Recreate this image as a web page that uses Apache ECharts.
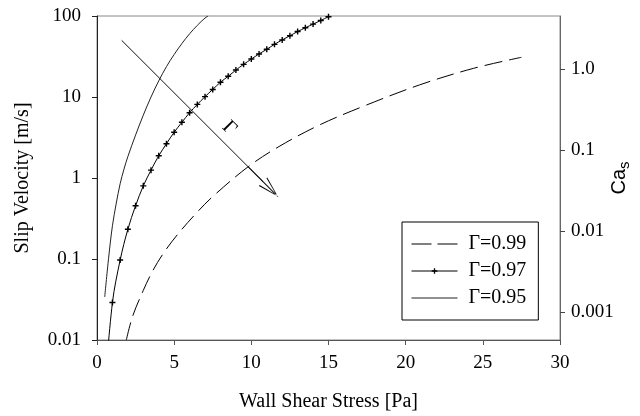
<!DOCTYPE html>
<html>
<head>
<meta charset="utf-8">
<script src="https://cdn.jsdelivr.net/npm/echarts@6/dist/echarts.min.js"></script>
<style>html,body{margin:0;padding:0;background:#fff;}#c{width:640px;height:416px;}</style>
</head>
<body>
<div id="c"></div>
<script>
// ---- data ----
const seriesNames = ['Γ=0.99', 'Γ=0.97', 'Γ=0.95'];
const x099 = [1.9, 2.3, 3, 3.6, 4.3, 5.25, 6.5, 7.5, 9.8, 11.8, 14.4, 17.2, 20.9, 24.4, 27.5];
const y099 = [0.01, 0.0194, 0.041, 0.0708, 0.1175, 0.204, 0.38, 0.59, 1.38, 2.45, 4.5, 7.6, 14.1, 22.6, 30.9];
const x097 = [0.5, 1, 1.5, 2, 2.5, 3, 3.5, 4, 4.5, 5, 5.5, 6, 6.5, 7, 7.5, 8, 8.5, 9, 9.5, 10, 10.5, 11, 11.5, 12, 12.5, 13, 13.5, 14, 14.5, 15];
const y097 = [0.0025, 0.029, 0.097, 0.233, 0.455, 0.80, 1.25, 1.88, 2.65, 3.67, 4.87, 6.4, 8.1, 10.1, 12.4, 15.2, 18.0, 21.5, 25.3, 29.4, 34, 38.8, 44.7, 50.6, 57, 64.3, 71.6, 79.4, 88.1, 98];
const x095 = [0.5, 0.75, 1, 1.25, 1.5, 1.75, 2, 2.5, 3, 3.5, 4, 4.5, 5, 5.5, 6, 6.5, 7, 7.2];
const y095 = [0.034, 0.102, 0.257, 0.49, 0.85, 1.29, 1.84, 3.39, 5.97, 10, 15.8, 23.7, 33.5, 45.7, 60.3, 76.7, 94.4, 100];
const xTicks = [0, 5, 10, 15, 20, 25, 30];
const yTickLabels = {0.01: '0.01', 0.1: '0.1', 1: '1', 10: '10', 100: '100'};
const caTicks = [0.001, 0.01, 0.1, 1];
const caTickLabels = ['0.001', '0.01', '0.1', '1.0'];
const caFactor = 22; // Ca_s = slip velocity / caFactor
const arrowFrom = [1.6, 50];
const arrowTo = [10.76, 0.9];
const arrowLabel = 'Γ';

const pair = (xs, ys) => xs.map((x, i) => [x, ys[i]]);
const serif = 'Liberation Serif';
const plus = 'path://M2.3,0 H3.7 V2.3 H6 V3.7 H3.7 V6 H2.3 V3.7 H0 V2.3 H2.3 Z';
const arrowHead = 'path://M6,0 L0,21 L1.2,21 L6,2.4 L10.8,21 L12,21 Z M5.5,0 L6.5,0 L6.5,42 L5.5,42 Z';

const chart = echarts.init(document.getElementById('c'), null, {renderer: 'canvas'});
chart.setOption({
  animation: false,
  backgroundColor: '#fff',
  grid: {left: 97, right: 80, top: 16, bottom: 76, show: true, borderColor: '#888', borderWidth: 1,
    containLabel: false, outerBoundsMode: 'none'},
  legend: {
    orient: 'vertical', left: 402, top: 222,
    data: [
      {name: seriesNames[0], itemStyle: {opacity: 0}, lineStyle: {type: [20, 6], width: 1, color: '#000'}},
      {name: seriesNames[1], lineStyle: {width: 1, color: '#000'}},
      {name: seriesNames[2], itemStyle: {opacity: 0}, lineStyle: {width: 1, color: '#222'}}
    ],
    itemWidth: 46, itemHeight: 7, itemGap: 7,
    padding: [12, 12, 12, 9],
    borderColor: '#000', borderWidth: 1, borderRadius: 0,
    textStyle: {fontFamily: serif, fontSize: 20, color: '#000', padding: [0, 0, 0, 6]}
  },
  xAxis: {
    type: 'value', min: 0, max: 30, interval: 5,
    name: 'Wall Shear Stress [Pa]', nameLocation: 'middle', nameGap: 52, nameMoveOverlap: false,
    nameTextStyle: {fontFamily: serif, fontSize: 20, color: '#000'},
    axisLine: {lineStyle: {color: '#555', width: 1}},
    axisTick: {show: true, inside: false, length: 5, lineStyle: {color: '#555'}},
    axisLabel: {fontFamily: serif, fontSize: 19, color: '#000', margin: 14,
      formatter: v => String(xTicks.find(t => Math.abs(t - v) < 1e-9))},
    splitLine: {show: false}
  },
  yAxis: [{
    type: 'log', logBase: 10, min: 0.01, max: 100, position: 'left',
    name: 'Slip Velocity [m/s]', nameLocation: 'middle', nameGap: 64, nameMoveOverlap: false,
    nameTextStyle: {fontFamily: serif, fontSize: 20, color: '#000'},
    axisLine: {show: true, lineStyle: {color: '#222', width: 1}},
    axisTick: {show: true, inside: false, length: 5, lineStyle: {color: '#222'}},
    minorTick: {show: false},
    axisLabel: {fontFamily: serif, fontSize: 19, color: '#000', margin: 16,
      formatter: v => { for (const k in yTickLabels) { if (Math.abs(Math.log10(+k) - Math.log10(v)) < 1e-6) return yTickLabels[k]; } return ''; }},
    splitLine: {show: false}
  }, {
    type: 'log', logBase: 10, min: 0.01 / caFactor, max: 100 / caFactor, position: 'right',
    name: '{a|Ca}{b|s}', nameLocation: 'middle', nameGap: 47, nameRotate: 90, nameMoveOverlap: false,
    nameTextStyle: {fontFamily: 'Liberation Sans', fontSize: 20, color: '#000',
      rich: {a: {fontFamily: 'Liberation Sans', fontSize: 20, color: '#000'},
             b: {fontFamily: 'Liberation Sans', fontSize: 15, color: '#000', padding: [10, 0, 0, 0]}}},
    axisLine: {show: true, lineStyle: {color: '#666', width: 1}},
    axisTick: {show: true, inside: false, length: 5, lineStyle: {color: '#444'}, customValues: caTicks},
    minorTick: {show: false},
    axisLabel: {fontFamily: serif, fontSize: 19, color: '#000', margin: 11, customValues: caTicks,
      formatter: v => { const i = caTicks.findIndex(t => Math.abs(Math.log10(t) - Math.log10(v)) < 1e-6); return i >= 0 ? caTickLabels[i] : ''; }},
    splitLine: {show: false}
  }],
  series: [{
    name: seriesNames[0], type: 'line', data: pair(x099, y099), yAxisIndex: 0,
    symbol: 'none', smooth: 0.35, clip: true,
    lineStyle: {color: '#000', width: 1, type: [18, 7]},
    itemStyle: {color: '#000'}
  }, {
    name: seriesNames[1], type: 'line', data: pair(x097, y097), yAxisIndex: 0,
    symbol: plus, symbolSize: 6, showSymbol: true, clip: true, smooth: 0.35,
    lineStyle: {color: '#000', width: 1},
    itemStyle: {color: '#000'}
  }, {
    name: seriesNames[2], type: 'line', data: pair(x095, y095), yAxisIndex: 0,
    symbol: 'none', clip: true, smooth: 0.35,
    lineStyle: {color: '#222', width: 1},
    itemStyle: {color: '#222'},
    markLine: {
      silent: true, animation: false,
      symbol: ['none', arrowHead], symbolSize: [12, 42],
      lineStyle: {color: '#111', width: 1, type: 'solid'},
      label: {show: true, formatter: arrowLabel, position: 'insideEndTop', distance: [56, 4],
        fontFamily: serif, fontSize: 20, color: '#000'},
      data: [[{coord: arrowFrom}, {coord: arrowTo}]]
    }
  }]
});
</script>
</body>
</html>
